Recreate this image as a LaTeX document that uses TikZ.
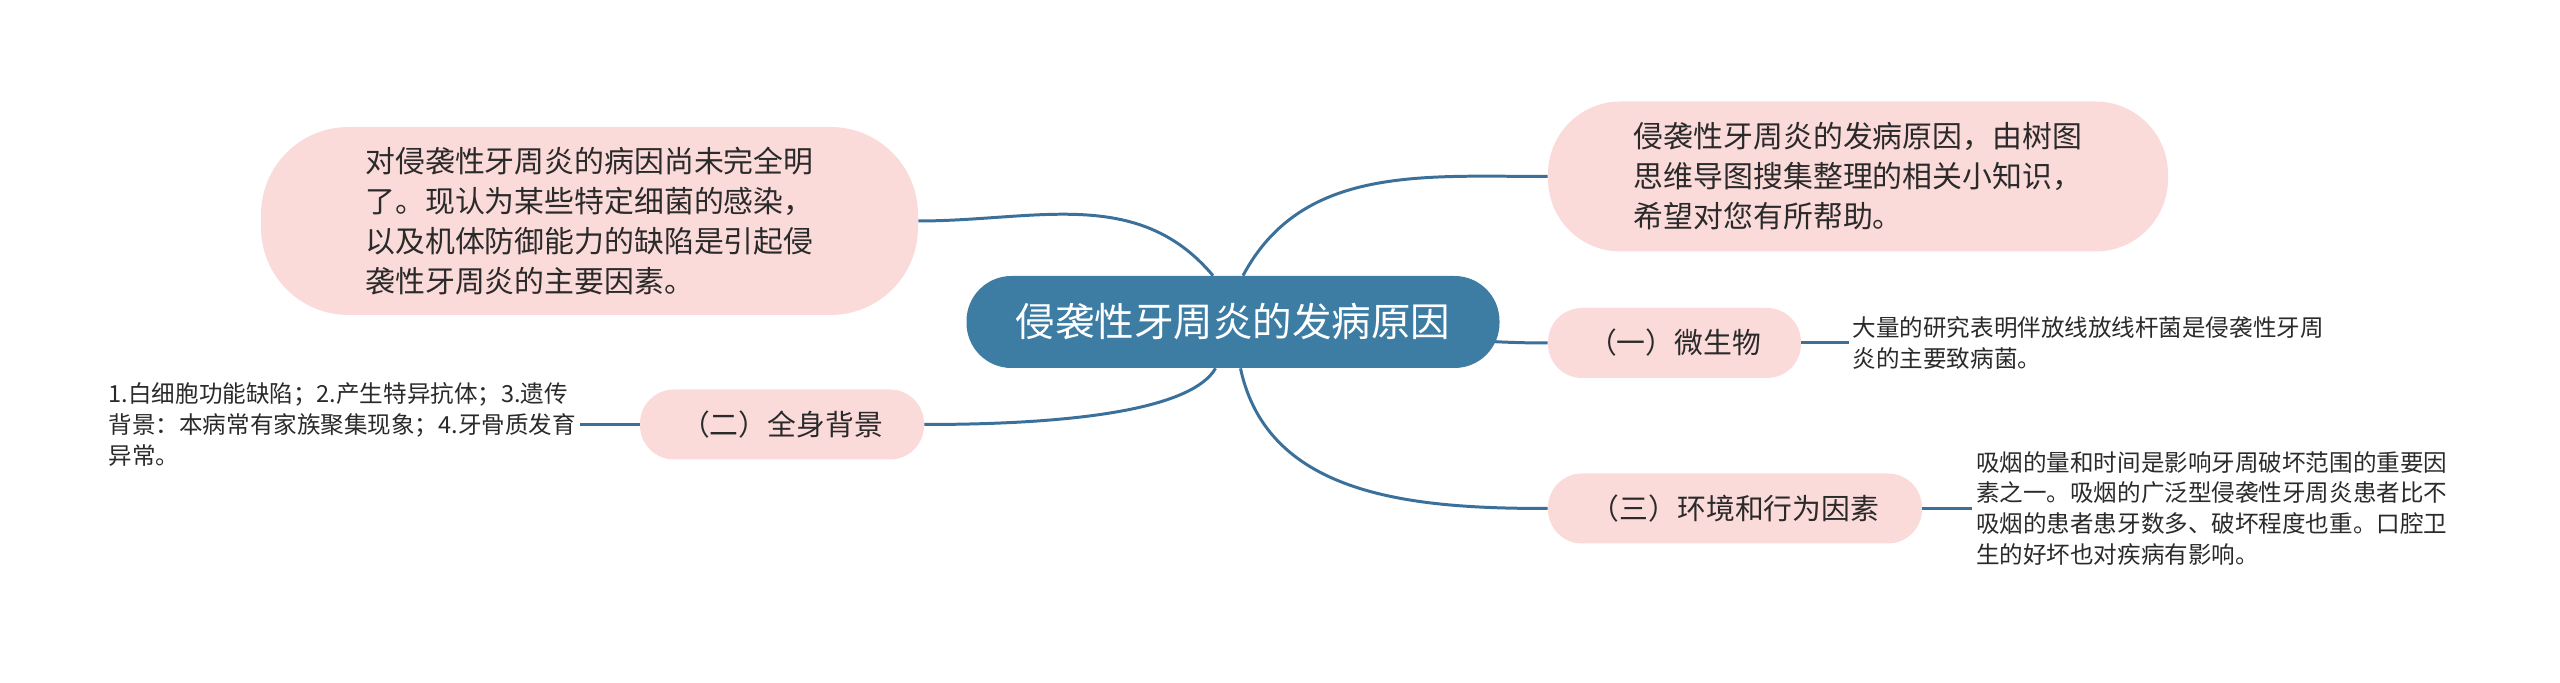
\documentclass[tikz,border=0pt]{standalone}
\usepackage{fontspec}
\setmainfont{Noto Sans CJK SC}
\usepackage{xcolor}
\definecolor{steel}{HTML}{3D7CA3}
\definecolor{wire}{HTML}{3A7099}
\definecolor{blush}{HTML}{FBDBDA}
\definecolor{ink}{HTML}{2A2A2A}
\usepackage{tikz}
\usetikzlibrary{positioning,backgrounds}
\tikzset{
  root/.style   ={fill=steel,text=white,rounded corners=0.9cm,inner sep=0pt,
                  font=\fontsize{22.5}{27}\selectfont,minimum width=10.66cm,
                  minimum height=1.84cm,align=center},
  note/.style   ={fill=blush,text=ink,inner sep=0pt,align=left,
                  font=\fontsize{17}{22.8}\selectfont},
  branch/.style ={fill=blush,text=ink,rounded corners=0.68cm,inner sep=0pt,
                  font=\fontsize{16.4}{20}\selectfont,minimum height=1.40cm,
                  align=center},
  leaf/.style   ={text=ink,inner sep=2pt,align=left,
                  font=\fontsize{13.4}{17.6}\selectfont},
  link/.style   ={draw=wire,line width=1.7pt},
}
\begin{document}
\begin{tikzpicture}[x=1cm,y=1cm]
\useasboundingbox (0,0) rectangle (51.2,13.66);
% centre
\node[root] (root) at (24.66,7.22) {侵袭性牙周炎的发病原因};
% notes
\node[note,rounded corners=1.75cm,minimum width=13.14cm,minimum height=3.76cm]
  (intro) at (11.79,9.24) {对侵袭性牙周炎的病因尚未完全明\\了。现认为某些特定细菌的感染，\\以及机体防御能力的缺陷是引起侵\\袭性牙周炎的主要因素。};
\node[note,rounded corners=1.45cm,minimum width=12.4cm,minimum height=3.0cm]
  (about) at (37.16,10.13) {侵袭性牙周炎的发病原因，由树图\\思维导图搜集整理的相关小知识，\\希望对您有所帮助。};
% branches
\node[branch,minimum width=5.06cm] (micro) at (33.49,6.80) {（一）微生物};
\node[branch,minimum width=7.48cm] (habit) at (34.70,3.49) {（三）环境和行为因素};
\node[branch,minimum width=5.68cm] (body) at (15.64,5.17) {（二）全身背景};
% leaves
\node[leaf,right=0.95cm of micro] (microtxt)
  {大量的研究表明伴放线放线杆菌是侵袭性牙周\\炎的主要致病菌。};
\node[leaf,right=1.0cm of habit] (habittxt)
  {吸烟的量和时间是影响牙周破坏范围的重要因\\素之一。吸烟的广泛型侵袭性牙周炎患者比不\\吸烟的患者患牙数多、破坏程度也重。口腔卫\\生的好坏也对疾病有影响。};
\node[leaf,left=1.2cm of body] (bodytxt)
  {1.白细胞功能缺陷；2.产生特异抗体；3.遗传\\背景：本病常有家族聚集现象；4.牙骨质发育\\异常。};
% connectors
\draw[link] (intro.east) to[out=0,in=130] ([xshift=-0.4cm]root.north);
\draw[link] ([xshift=0.2cm]root.north) to[out=62,in=180] (about.west);
\begin{scope}[on background layer]
\draw[link] (root.center) to[out=0,in=180] (micro.west);
\end{scope}
\draw[link] ([xshift=0.15cm]root.south) to[out=282,in=180] (habit.west);
\draw[link] ([xshift=-0.35cm]root.south) .. controls +(240:0.9) and +(3.2,0) .. (body.east);
\draw[link] (micro.east) -- (microtxt.west);
\draw[link] (habit.east) -- (habittxt.west);
\draw[link] (body.west) -- (bodytxt.east);
\end{tikzpicture}
\end{document}
